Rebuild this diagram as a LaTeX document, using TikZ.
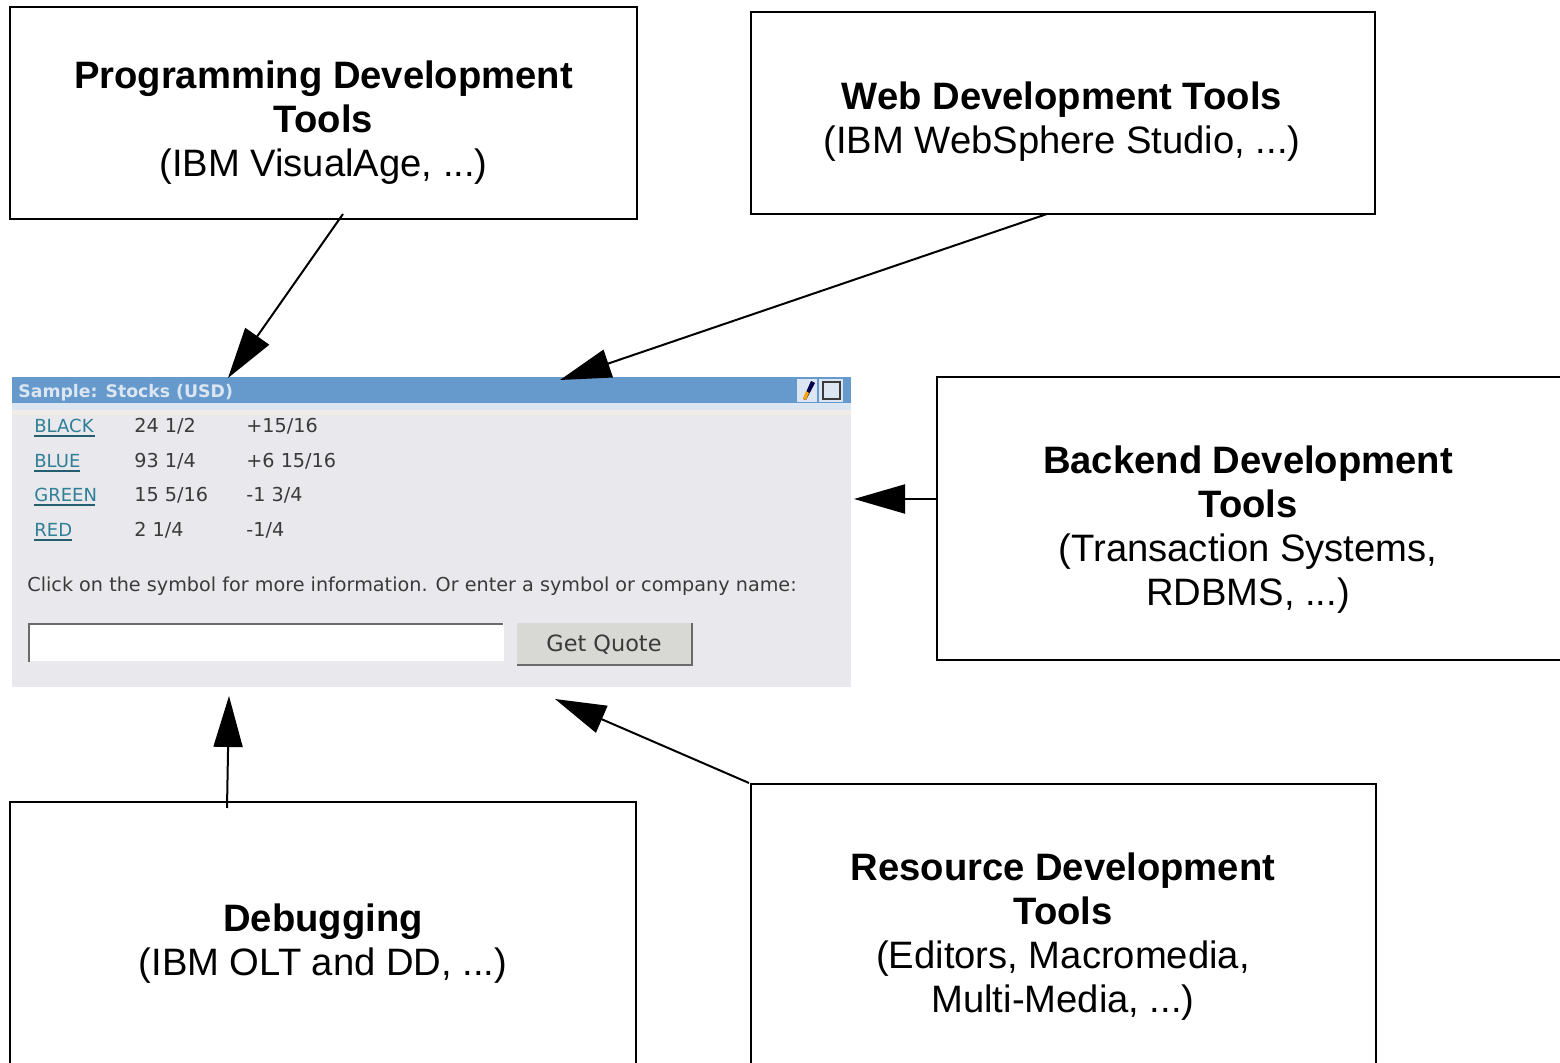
\documentclass[tikz,border=0pt]{standalone}
\usepackage{fontspec}
\setmainfont{Liberation Sans}
\newfontfamily\uifont{DejaVu Sans}
\usetikzlibrary{arrows.meta}
\definecolor{barblue}{HTML}{6699CC}
\definecolor{panelgrey}{HTML}{E9E8EC}
\definecolor{stripblue}{HTML}{DCE6F2}
\definecolor{stripcream}{HTML}{F0ECE8}
\definecolor{linkteal}{HTML}{2F7F96}
\definecolor{uitext}{HTML}{3A3A3A}
\definecolor{btnface}{HTML}{D8D8D4}
\definecolor{btnedge}{HTML}{6A6A6A}
\tikzset{
  x=0.5pt,y=-0.5pt,
  boxshape/.style={draw=black,line width=1pt,fill=white,inner sep=0pt,outer sep=0pt,anchor=north west},
  boxtext/.style={font=\fontsize{19.1}{22}\selectfont,align=center,inner sep=0pt,text=black},
  flow/.style={draw=black,line width=1pt,-{Triangle[length=25.5pt,width=14.5pt]},shorten >=0pt},
  uilabel/.style={font=\uifont\fontsize{9.6}{10}\selectfont,text=uitext,anchor=base west,inner sep=0pt},
  linklabel/.style={font=\uifont\fontsize{9}{10}\selectfont,text=linkteal,anchor=base west,inner sep=0pt},
  linkrule/.style={draw=linkteal!75!black,line width=0.7pt},
}
\begin{document}
\begin{tikzpicture}
\useasboundingbox (0,0) rectangle (1560,1063);
\clip (0,0) rectangle (1560,1063);
\fill[white] (0,0) rectangle (1560,1063);

% screenshot panel
\node[fill=panelgrey,inner sep=0pt,outer sep=0pt,minimum width=419.5pt,minimum height=155pt,anchor=north west] (panel) at (12,377) {};
\fill[barblue] (12,377) rectangle (851,403);
\fill[stripblue] (12,403) rectangle (851,410);
\fill[stripcream] (12,410) rectangle (851,415);
\node[font=\uifont\bfseries\fontsize{8.65}{10}\selectfont,text=stripblue,anchor=base west,inner sep=0pt] (title) at (18,398) {Sample: Stocks (USD)};

% title bar icons
\fill[stripblue] (797,379) rectangle (817,402);
\fill[stripblue] (819,379) rectangle (843,402);
\draw[uitext,line width=0.8pt] (823,382) rectangle (840,399);
\fill[black!70!blue] (806,400) -- (803,399) -- (811,381) -- (815,383) -- cycle;
\fill[orange!70!yellow] (806,400) -- (803,399) -- (806,391) -- (809,393) -- cycle;

% quote table
\node[linklabel] (s1) at (34,433) {BLACK};
\node[uilabel]   (a1) at (134,433) {24 1/2};
\node[uilabel]   (c1) at (246,433) {+15/16};
\node[linklabel] (s2) at (34,468) {BLUE};
\node[uilabel]   (a2) at (134,468) {93 1/4};
\node[uilabel]   (c2) at (246,468) {+6 15/16};
\node[linklabel] (s3) at (34,502) {GREEN};
\node[uilabel]   (a3) at (134,502) {15 5/16};
\node[uilabel]   (c3) at (246,502) {-1 3/4};
\node[linklabel] (s4) at (34,537) {RED};
\node[uilabel]   (a4) at (134,537) {2 1/4};
\node[uilabel]   (c4) at (246,537) {-1/4};
\draw[linkrule] (34,436) -- (95,436);
\draw[linkrule] (34,471) -- (80,471);
\draw[linkrule] (34,505) -- (95,505);
\draw[linkrule] (34,540) -- (72,540);

\node[uilabel] (hint) at (27,591.5) {Click on the symbol for more information. Or enter a symbol or company name:};

% input and button
\node[fill=white,inner sep=0pt,outer sep=0pt,minimum width=238pt,minimum height=19pt,anchor=north west] (input) at (28,623) {};
\draw[btnedge,line width=0.9pt] (29,662) -- (29,624) -- (503,624);
\node[fill=btnface,inner sep=0pt,outer sep=0pt,minimum width=87.5pt,minimum height=21pt,anchor=north west] (button) at (517,623) {};
\draw[btnedge,line width=0.9pt] (517,665) -- (692,665) -- (692,623);
\node[font=\uifont\fontsize{11.2}{13}\selectfont,text=uitext,inner sep=0pt] (btnlabel) at (604,645) {Get Quote};

% boxes
\node[boxshape,minimum width=313.5pt,minimum height=106pt] (bprog) at (10,7) {};
\node[boxshape,minimum width=312pt,minimum height=101pt] (bweb) at (751,12) {};
\node[boxshape,minimum width=312pt,minimum height=141.5pt] (bback) at (937,377) {};
\node[boxshape,minimum width=313pt,minimum height=170pt] (bdebug) at (10,802) {};
\node[boxshape,minimum width=312.5pt,minimum height=179pt] (bres) at (751,784) {};

\node[boxtext] (tprog) at (323.5,123) {\textbf{Programming Development}\\\textbf{Tools}\\(IBM VisualAge, ...)};
\node[boxtext] (tweb) at (1062,122) {\textbf{Web Development Tools}\\(IBM WebSphere Studio, ...)};
\node[boxtext] (tback) at (1248,529.5) {\textbf{Backend Development}\\\textbf{Tools}\\(Transaction Systems,\\RDBMS, ...)};
\node[boxtext] (tdebug) at (323,944) {\textbf{Debugging}\\(IBM OLT and DD, ...)};
\node[boxtext] (tres) at (1063,937) {\textbf{Resource Development}\\\textbf{Tools}\\(Editors, Macromedia,\\Multi-Media, ...)};

% connector ends
\coordinate (pTopA) at (228,378);
\coordinate (pTopB) at (560,380);
\coordinate (pRight) at (854,499);
\coordinate (pBotA) at (229,696);
\coordinate (pBotB) at (555,699);
\coordinate (sProg) at (343,214);
\coordinate (sWeb) at (1047,214);
\coordinate (sBack) at (937,499);
\coordinate (sDebug) at (227,808);
\coordinate (sRes) at (749,783);

\draw[flow] (sProg) -- (pTopA);
\draw[flow] (sWeb) -- (pTopB);
\draw[flow] (sBack) -- (pRight);
\draw[flow] (sDebug) -- (pBotA);
\draw[flow] (sRes) -- (pBotB);
\end{tikzpicture}
\end{document}
